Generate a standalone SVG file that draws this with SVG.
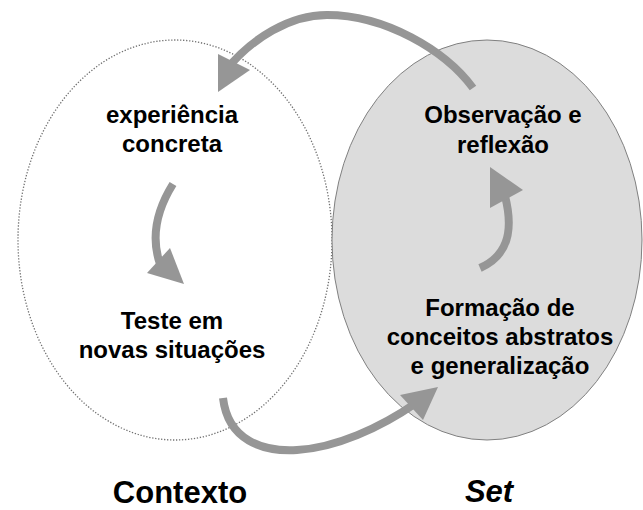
<svg xmlns="http://www.w3.org/2000/svg" width="643" height="510" viewBox="0 0 643 510">
<style>
.t{font-family:"Liberation Sans",Arial,sans-serif;font-weight:bold;font-size:24px;fill:#000;text-anchor:middle}
.big{font-size:31px}
.arr{fill:none;stroke:#969696;stroke-width:8}
.head{fill:#969696}
</style>
<rect width="643" height="510" fill="#fff"/>
<g id="contexto">
<ellipse cx="175" cy="240" rx="157" ry="200" fill="none" stroke="#707070" stroke-width="1.3" stroke-dasharray="1.3 1.7"/>
</g>
<g id="set">
<ellipse cx="487" cy="240" rx="155" ry="200" fill="#dcdcdc" stroke="#808080" stroke-width="1"/>
</g>
<g id="connectors">
<path class="arr" d="M473,88 C445,50 385,15 327,15 C290,15 252,38 226,70"/>
<polygon class="head" points="218,54 250,70 218,92"/>
<path class="arr" d="M173,184 C158,208 150,235 160,264"/>
<polygon class="head" points="147,273 170,248 184,284"/>
<path class="arr" d="M480,268 C505,257 515,235 505,196"/>
<polygon class="head" points="490,167 523,190 490,208"/>
<path class="arr" d="M223,398 C228,440 262,452 297,450 C335,448 380,428 416,403"/>
<polygon class="head" points="400,395 438,387 423,420"/>
</g>
<g id="n1"><text class="t" x="172" y="123">experiência</text><text class="t" x="172" y="152">concreta</text></g>
<g id="n2"><text class="t" x="503" y="123">Observação e</text><text class="t" x="503" y="153">reflexão</text></g>
<g id="n3"><text class="t" x="172" y="329">Teste em</text><text class="t" x="172" y="358">novas situações</text></g>
<g id="n4"><text class="t" x="500" y="316">Formação de</text><text class="t" x="500" y="345">conceitos abstratos</text><text class="t" x="500" y="374">e generalização</text></g>
<g id="l1"><text class="t big" x="180" y="503">Contexto</text></g>
<g id="l2"><text class="t big" x="489" y="502" font-style="italic">Set</text></g>
</svg>
